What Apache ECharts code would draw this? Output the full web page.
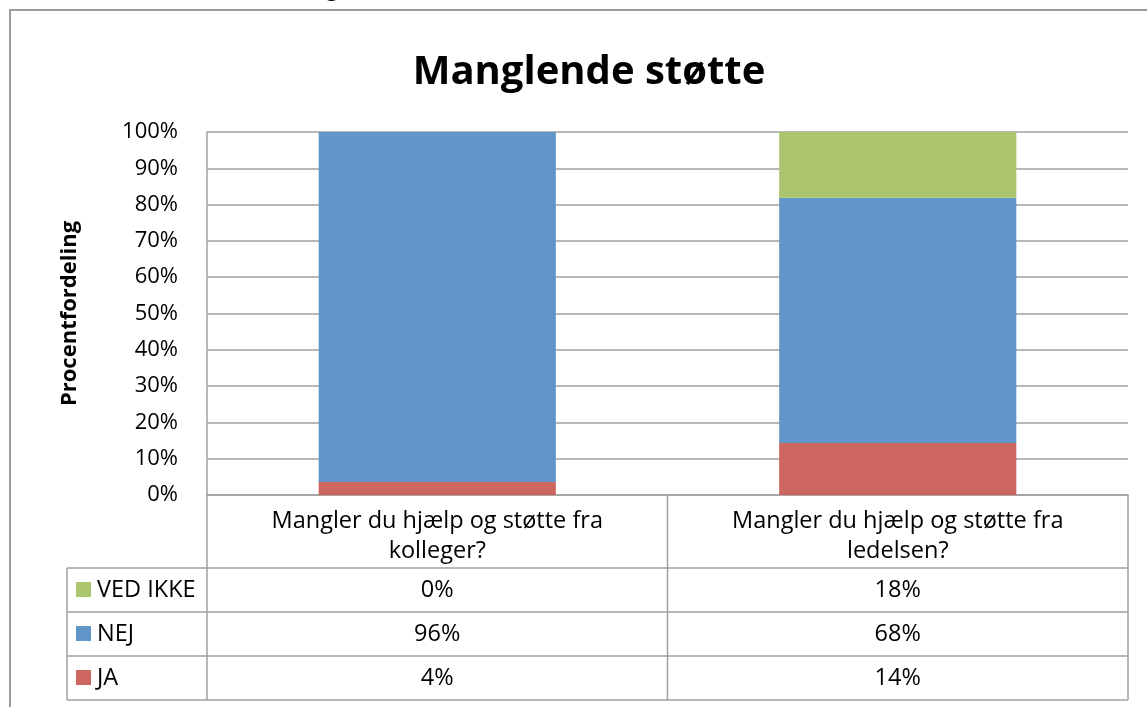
<!DOCTYPE html>
<html>
<head>
<meta charset="utf-8">
<script src="https://cdn.jsdelivr.net/npm/echarts@6/dist/echarts.min.js"></script>
<style>
  html, body { margin: 0; padding: 0; background: #fff; }
  #main { width: 1147px; height: 707px; }
</style>
</head>
<body>
<div id="main"></div>
<script>
// data
var categories = ['Mangler du hjælp og støtte fra kolleger?', 'Mangler du hjælp og støtte fra ledelsen?'];
var seriesNames = ['JA', 'NEJ', 'VED IKKE'];           // stacked bottom -> top
var jaData = [3.6, 14.3];
var nejData = [96.4, 67.6];
var vedIkkeData = [0, 18.1];
var yTicks = [0, 100, 10];                            // min, max, interval
var colors = { 'JA': '#CD665F', 'NEJ': '#6196C8', 'VED IKKE': '#ABC46E' };

var FONT = 'Open Sans';
var LINE = '#a0a0a0';

var chart = echarts.init(document.getElementById('main'));

var gridLeft = 207, gridRight = 1128, gridTop = 132, gridBottom = 495;

var option = {
  animation: false,
  backgroundColor: '#fff',
  title: {
    text: 'Manglende støtte',
    left: 584,
    top: 48,
    textAlign: 'center',
    textStyle: { fontFamily: FONT, fontSize: 40, fontWeight: 'bold', color: '#000' }
  },
  grid: {
    left: gridLeft, right: 1147 - gridRight, top: gridTop, bottom: 707 - gridBottom,
    containLabel: false
  },
  xAxis: {
    type: 'category',
    data: categories,
    axisLine: { show: true, lineStyle: { color: LINE, width: 1.5 } },
    axisTick: { show: false },
    axisLabel: {
      margin: 11,
      fontFamily: FONT, fontSize: 23.5, color: '#000', lineHeight: 30,
      formatter: function (v) { return v.replace(' fra ', ' fra\n'); }
    }
  },
  yAxis: {
    type: 'value',
    min: yTicks[0], max: yTicks[1], interval: yTicks[2],
    name: 'Procentfordeling',
    nameLocation: 'middle',
    nameGap: 126,
    nameTextStyle: { fontFamily: FONT, fontSize: 22, fontWeight: 'bold', color: '#000' },
    axisLine: { show: true, lineStyle: { color: LINE, width: 1.5 } },
    axisTick: { show: false },
    splitLine: { lineStyle: { color: LINE, width: 1.5 } },
    axisLabel: {
      margin: 29,
      fontFamily: FONT, fontSize: 22, color: '#000',
      formatter: '{value}%'
    }
  },
  series: [
    { name: 'JA', type: 'bar', stack: 'all', barWidth: '51.5%', data: jaData, itemStyle: { color: colors['JA'] } },
    { name: 'NEJ', type: 'bar', stack: 'all', data: nejData, itemStyle: { color: colors['NEJ'] } },
    { name: 'VED IKKE', type: 'bar', stack: 'all', data: vedIkkeData, itemStyle: { color: colors['VED IKKE'] } }
  ]
};

chart.setOption(option);

// data table under the plot, placed from the category axis
function buildTable() {
  var c0 = chart.convertToPixel({ xAxisIndex: 0 }, 0);
  var c1 = chart.convertToPixel({ xAxisIndex: 0 }, 1);
  var band = c1 - c0;
  var xEdges = [c0 - band / 2, c0 + band / 2, c1 + band / 2];
  var tableLeft = 67;
  var headTop = chart.convertToPixel({ yAxisIndex: 0 }, 0);
  var rowTop = headTop + 73, rowH = 44;
  var rows = [
    { name: 'VED IKKE', vals: vedIkkeData },
    { name: 'NEJ', vals: nejData },
    { name: 'JA', vals: jaData }
  ];
  var els = [];
  var ls = { stroke: LINE, lineWidth: 1.5 };
  var bottom = rowTop + rowH * rows.length;
  // horizontal lines
  for (var r = 0; r <= rows.length; r++) {
    var y = rowTop + r * rowH;
    els.push({ type: 'line', shape: { x1: tableLeft, y1: y, x2: xEdges[2], y2: y }, style: ls, silent: true });
  }
  // vertical lines
  els.push({ type: 'line', shape: { x1: tableLeft, y1: rowTop, x2: tableLeft, y2: bottom }, style: ls });
  xEdges.forEach(function (x) {
    els.push({ type: 'line', shape: { x1: x, y1: headTop, x2: x, y2: bottom }, style: ls });
  });
  rows.forEach(function (row, i) {
    var cy = rowTop + rowH * i + rowH / 2;
    els.push({ type: 'rect', shape: { x: 76, y: cy - 8, width: 15, height: 15 }, style: { fill: colors[row.name] } });
    els.push({ type: 'text', x: 97, y: cy, style: { text: row.name, fontFamily: FONT, fontSize: 23.5, fill: '#000', verticalAlign: 'middle', align: 'left' } });
    row.vals.forEach(function (v, j) {
      els.push({ type: 'text', x: (xEdges[j] + xEdges[j + 1]) / 2, y: cy, style: { text: Math.round(v) + '%', fontFamily: FONT, fontSize: 23.5, fill: '#000', verticalAlign: 'middle', align: 'center' } });
    });
  });
  // outer chart frame
  els.push({ type: 'rect', shape: { x: 10, y: 10, width: 1200, height: 800 }, style: { fill: 'none', stroke: '#9a9a9a', lineWidth: 2 } });
  // descender of text above the frame (cut off)
  els.push({ type: 'text', x: 326, y: -10, style: { text: 'g', fontFamily: FONT, fontSize: 22, fill: '#000', verticalAlign: 'middle' } });
  chart.setOption({ graphic: { elements: els } });
}
buildTable();
</script>
</body>
</html>
